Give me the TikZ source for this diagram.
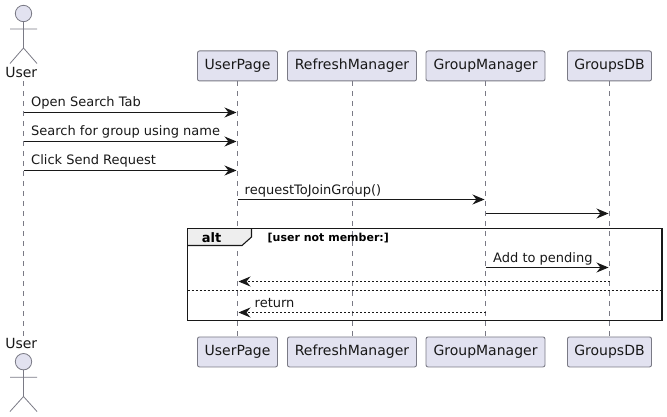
\documentclass[tikz,border=0pt]{standalone}
\usepackage{fontspec}
\setmainfont{DejaVu Sans}
\usetikzlibrary{arrows.meta,calc}
\definecolor{pfill}{HTML}{E2E2F0}
\definecolor{pline}{HTML}{7A7A85}
\definecolor{tabfill}{HTML}{EEEEEE}
\definecolor{ink}{HTML}{181818}
\tikzset{
  x=1pt,y=-1pt,
  pbox/.style={draw=pline,line width=0.9pt,fill=pfill,rounded corners=2pt,minimum height=30pt,inner sep=0pt,font=\fontsize{14}{16}\selectfont,text=ink,anchor=north},
  lifeline/.style={draw=pline,line width=0.7pt,dash pattern=on 5pt off 5pt},
  actorline/.style={draw=pline,line width=0.8pt},
  msg/.style={draw=ink,line width=0.9pt,-{Stealth[length=12pt,width=10pt,inset=4pt]},shorten >=1pt},
  ret/.style={msg,dash pattern=on 2pt off 2pt},
  lbl/.style={font=\fontsize{13}{15}\selectfont,text=ink,inner sep=0pt,anchor=base west},
  actorlbl/.style={font=\fontsize{14}{16}\selectfont,text=ink,inner sep=0pt,anchor=base},
  frametxt/.style={font=\bfseries\fontsize{11}{13}\selectfont,text=black,inner sep=0pt}
}
\begin{document}
\begin{tikzpicture}
\useasboundingbox (0,0) rectangle (667,417);
% coordinates for message rows
\coordinate (m1) at (0,112.5);
\coordinate (m2) at (0,141.5);
\coordinate (m3) at (0,170.5);
\coordinate (m4) at (0,199.5);
\coordinate (m5) at (0,213.5);
\coordinate (m6) at (0,267.5);
\coordinate (m7) at (0,281.5);
\coordinate (m8) at (0,312.5);
% participants
\node[actorlbl] (userT) at (21.3,78) {User};
\node[actorlbl] (userB) at (21.3,348) {User};
\coordinate (uTop) at (23.5,81);
\coordinate (uBot) at (23.5,336);
\node[pbox,minimum width=80pt] (upT) at (237.5,50.5) {UserPage};
\node[pbox,minimum width=129pt] (rmT) at (352,50.5) {RefreshManager};
\node[pbox,minimum width=119pt] (gmT) at (485.5,50.5) {GroupManager};
\node[pbox,minimum width=84pt] (dbT) at (609.5,50.5) {GroupsDB};
\node[pbox,minimum width=80pt] (upB) at (237.5,336.5) {UserPage};
\node[pbox,minimum width=129pt] (rmB) at (352,336.5) {RefreshManager};
\node[pbox,minimum width=119pt] (gmB) at (485.5,336.5) {GroupManager};
\node[pbox,minimum width=84pt] (dbB) at (609.5,336.5) {GroupsDB};
% lifelines
\draw[lifeline] (uTop) -- (uBot);
\draw[lifeline] (upT.south) -- (upB.north);
\draw[lifeline] (rmT.south) -- (rmB.north);
\draw[lifeline] (gmT.south) -- (gmB.north);
\draw[lifeline] (dbT.south) -- (dbB.north);
% actors
\draw[actorline,fill=pfill] (23.5,13.5) circle (8.2);
\draw[actorline] (23.5,21.7) -- (23.5,48) (10,29) -- (37,29) (10,63.5) -- (23.5,48) -- (37,63.5);
\draw[actorline,fill=pfill] (23.5,361.7) circle (8.2);
\draw[actorline] (23.5,369.9) -- (23.5,396.5) (10,377.3) -- (37,377.3) (10,411.5) -- (23.5,396.5) -- (37,411.5);
% alt frame
\coordinate (fTL) at (187.5,228.5);
\coordinate (fBR) at (662,320.5);
\draw[fill=tabfill,draw=none] (fTL) -- (251.5,228.5) -- (251.5,237) -- (242,245.5) -- (187.5,245.5) -- cycle;
\draw[draw=ink,line width=1.1pt] (251.5,228.5) -- (251.5,237) -- (242,245.5) -- (187.5,245.5);
\draw[draw=ink,line width=1.9pt] (fTL) rectangle (fBR);
\node[frametxt,font=\bfseries\fontsize{13}{15}\selectfont] (alt) at (211.5,237.3) {alt};
\node[frametxt,anchor=base west] (guard) at (267.5,241) {[user not member:]};
\coordinate (divL) at (187.5,290.5);
\coordinate (divR) at (662,290.5);
\draw[draw=ink,line width=0.8pt,dash pattern=on 2pt off 2pt] (divL) -- (divR);
% messages
\draw[msg] (uTop |- m1) -- (upT |- m1);
\draw[msg] (uTop |- m2) -- (upT |- m2);
\draw[msg] (uTop |- m3) -- (upT |- m3);
\draw[msg] (upT |- m4) -- (gmT |- m4);
\draw[msg] (gmT |- m5) -- (dbT |- m5);
\draw[msg] (gmT |- m6) -- (dbT |- m6);
\draw[ret] (dbT |- m7) -- (upT |- m7);
\draw[ret] (gmT |- m8) -- (upT |- m8);
% labels
\node[lbl] (l1) at (31,107) {Open Search Tab};
\node[lbl] (l2) at (31,136) {Search for group using name};
\node[lbl] (l3) at (31,165) {Click Send Request};
\node[lbl] (l4) at (244.5,194) {requestToJoinGroup()};
\node[lbl] (l6) at (493,262) {Add to pending};
\node[lbl] (l8) at (254.5,307) {return};
\end{tikzpicture}
\end{document}
